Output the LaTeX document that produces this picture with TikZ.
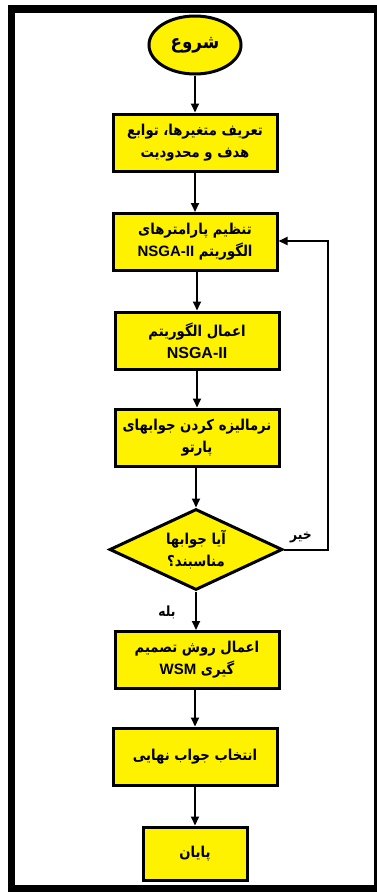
\documentclass[tikz,border=0pt]{standalone}
\usepackage{fontspec}
\TeXXeTstate=1
\newfontfamily\fa[Script=Arabic, FakeStretch=0.88]{DejaVu Sans}
\newfontfamily\lat{Liberation Sans}
\usetikzlibrary{shapes.geometric,arrows.meta}
\newcommand{\rl}[1]{\beginR #1\endR}
\newcommand{\lt}[1]{\beginL{\lat\bfseries #1}\endL}
\tikzset{
  flow/.style={draw=black, line width=3pt, fill=yellow, inner sep=0pt, align=center,
    font=\fa\bfseries\fontsize{15}{22}\selectfont},
  boxnode/.style={flow, rectangle, minimum width=164pt, minimum height=57pt},
  ellnode/.style={flow, ellipse, minimum width=92pt, minimum height=58pt},
  dianode/.style={flow, diamond, minimum width=173pt, minimum height=81pt},
  txt/.style={align=center, font=\fa\bfseries\fontsize{15}{22}\selectfont},
  lbl/.style={font=\fa\bfseries\fontsize{14}{15}\selectfont},
  arr/.style={draw=black, line width=2pt, -{Triangle[length=9pt,width=8pt]}}
}
\begin{document}
\begin{tikzpicture}[x=1pt,y=-1pt]
\useasboundingbox (0,0) rectangle (377,892);
% frame
\fill[black] (8,5) rectangle (377,13);
\fill[black] (8,5) rectangle (15,892);
\fill[black] (8,885) rectangle (377,892);
\fill[black] (374,5) rectangle (377,892);
% nodes
\node[ellnode, font=\fa\bfseries\fontsize{19}{20}\selectfont] (s) at (195,45) {\rl{شروع}};
\node[boxnode] (b1) at (195,142.5) {\rl{تعریف متغیرها، توابع}\\\rl{هدف و محدودیت}};
\node[boxnode] (b2) at (195,242) {\rl{تنظیم پارامترهای}\\\rl{الگوریتم \lt{NSGA-II}}};
\node[boxnode] (b3) at (197,340.5) {\rl{اعمال الگوریتم}\\{\fontsize{16}{22}\selectfont\lt{NSGA-II}}};
\node[boxnode] (b4) at (197,437.5) {\rl{نرمالیزه کردن جوابهای}\\\rl{پارتو}};
\node[dianode] (d) at (196,549.5) {};
\node[txt] (dt) at (d.center) {\rl{آیا جوابها}\\\rl{مناسبند؟}};
\node[boxnode] (b5) at (197,660) {\rl{اعمال روش تصمیم}\\\rl{گیری \lt{WSM}}};
\node[boxnode] (b6) at (195,756.5) {\rl{انتخاب جواب نهایی}};
\node[boxnode, minimum width=104pt, minimum height=53pt] (e) at (195,853.5) {\rl{پایان}};
\node[lbl] (no) at (301,537) {\rl{خیر}};
\node[lbl] (yes) at (167,612) {\rl{بله}};
\coordinate (fb) at (328,241);
% connectors
\draw[arr] (s) -- (b1);
\draw[arr] (b1) -- (b2);
\draw[arr] (b2.south -| b3.north) -- (b3);
\draw[arr] (b3) -- (b4);
\draw[arr] (b4.south -| d.north) -- (d.north);
\draw[arr] (d.south) -- (b5.north -| d.south);
\draw[arr] (b5.south -| b6.north) -- (b6);
\draw[arr] (b6) -- (e);
\draw[arr] (d.east) -| (fb) -- (b2.east |- fb);
\end{tikzpicture}
\end{document}
